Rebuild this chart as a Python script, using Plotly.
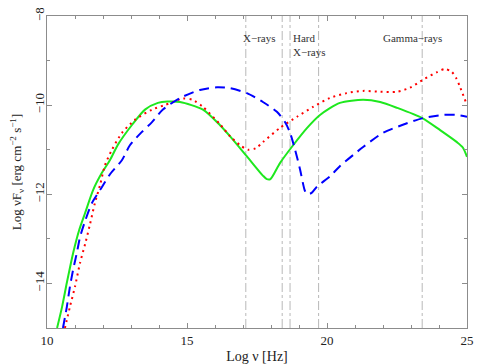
import plotly.graph_objects as go

# ---- data (log nu [Hz], log nuF_nu) ----
green_x = [10.36, 10.54, 10.71, 10.94, 11.15, 11.36, 11.65, 11.95, 12.25, 12.54, 13.04, 13.5, 13.96, 14.3,
           14.75, 15.57, 16.18, 16.54, 17.14, 17.71, 17.85, 17.98, 18.32, 18.79, 19.29, 19.75, 20.46,
           21.29, 21.9, 22.5, 23.4, 24.04, 24.64, 24.85, 25.0]
green_y = [-15.0, -14.52, -13.98, -13.3, -12.8, -12.42, -11.9, -11.53, -11.23, -10.88, -10.44, -10.1, -9.95, -9.92,
           -9.93, -10.1, -10.45, -10.7, -11.15, -11.58, -11.66, -11.66, -11.3, -10.9, -10.51, -10.22, -9.95,
           -9.88, -9.93, -10.06, -10.29, -10.56, -10.83, -10.95, -11.16]

red_x = [10.64, 10.82, 11.0, 11.18, 11.36, 11.54, 11.71, 11.9, 12.07, 12.32, 12.68, 13.14, 13.75, 14.2,
         14.5, 14.86, 15.2, 15.57, 16.18, 16.54, 16.9, 17.18, 17.45, 17.71, 18.32, 18.93, 19.5, 20.1,
         20.7, 21.29, 21.9, 22.5, 22.96, 23.43, 23.93, 24.2, 24.45, 24.62, 24.75, 24.97]
red_y = [-15.0, -14.52, -14.07, -13.54, -13.12, -12.66, -12.2, -11.78, -11.35, -11.0, -10.62, -10.33, -10.1, -10.0,
         -9.93, -9.85, -9.88, -10.04, -10.43, -10.7, -10.9, -11.0, -10.97, -10.83, -10.51, -10.26, -10.04, -9.84,
         -9.73, -9.68, -9.7, -9.7, -9.61, -9.43, -9.26, -9.19, -9.25, -9.4, -9.59, -9.95]

blue_x = [10.57, 10.71, 10.82, 10.93, 11.07, 11.18, 11.36, 11.6, 11.9, 12.25, 12.68, 12.96, 13.39, 13.75,
          14.14, 14.75, 15.46, 16.07, 16.54, 17.14, 17.71, 18.21, 18.5, 18.68, 18.86, 19.04, 19.21, 19.3,
          19.45, 19.64, 20.1, 20.46, 21.29, 22.0, 22.71, 23.43, 24.14, 24.64, 25.0]
blue_y = [-15.0, -14.52, -14.07, -13.7, -13.3, -12.96, -12.6, -12.2, -11.9, -11.55, -11.23, -10.9, -10.6, -10.38,
          -10.1, -9.84, -9.66, -9.6, -9.62, -9.73, -9.93, -10.15, -10.38, -10.62, -11.0, -11.45, -11.92, -12.0,
          -11.97, -11.83, -11.6, -11.37, -10.94, -10.62, -10.44, -10.29, -10.22, -10.22, -10.26]

band_lines = [17.1, 18.4, 18.68, 19.7, 23.4]
band_labels = ["X−rays", "Hard<br>X−rays", "Gamma−rays"]
band_label_x = [17.57, 18.72, 23.07]

x_ticks = [10, 15, 20, 25]
y_ticks = [-14, -12, -10, -8]

FONT = "Liberation Serif, Times New Roman, serif"
AXC = "#8c8c8c"

fig = go.Figure()
fig.add_trace(go.Scatter(x=green_x, y=green_y, mode="lines",
                         line=dict(color="#1ee81e", width=2, shape="spline", smoothing=0.7)))
fig.add_trace(go.Scatter(x=red_x, y=red_y, mode="lines",
                         line=dict(color="#ff0000", width=2, dash="2px,4px", shape="spline", smoothing=0.7)))
fig.add_trace(go.Scatter(x=blue_x, y=blue_y, mode="lines",
                         line=dict(color="#0000ff", width=2, dash="10px,6px", shape="spline", smoothing=0.7)))

for xv in band_lines:
    fig.add_shape(type="line", x0=xv, x1=xv, xref="x", y0=0, y1=1, yref="paper",
                  line=dict(color="#b8b8b8", width=1, dash="dashdot"), layer="below")

fig.add_annotation(x=band_label_x[0], y=-8.49, text=band_labels[0], showarrow=False,
                   xanchor="center", yanchor="middle", font=dict(family=FONT, size=11, color="#333"))
fig.add_annotation(x=band_label_x[1], y=-8.65, text=band_labels[1], showarrow=False, align="left",
                   xanchor="left", yanchor="middle", font=dict(family=FONT, size=11, color="#333"))
fig.add_annotation(x=band_label_x[2], y=-8.49, text=band_labels[2], showarrow=False,
                   xanchor="center", yanchor="middle", font=dict(family=FONT, size=11, color="#333"))

# page body has an 8px margin, so the figure is made 8px smaller and margins compensated
fig.update_layout(
    width=476, height=356,
    margin=dict(l=39, r=17, t=8, b=36),
    paper_bgcolor="white", plot_bgcolor="white",
    showlegend=False,
    font=dict(family=FONT, size=13, color="#222"),
    xaxis=dict(range=[10, 25], tickvals=x_ticks, ticks="inside", ticklen=5, tickcolor=AXC,
               showline=True, linecolor=AXC, linewidth=1, mirror="allticks", showgrid=False, zeroline=False,
               automargin=False,
               minor=dict(dtick=1, ticks="inside", ticklen=3, tickcolor=AXC),
               title=dict(text="Log ν [Hz]", font=dict(size=14), standoff=7),
               tickfont=dict(size=13)),
    yaxis=dict(range=[-15, -8], tickvals=y_ticks, ticks="inside", ticklen=5, tickcolor=AXC,
               showline=True, linecolor=AXC, linewidth=1, mirror="allticks", showgrid=False, zeroline=False,
               automargin=False, ticklabelstandoff=-3, ticklabeloverflow="allow",
               minor=dict(dtick=1, ticks="inside", ticklen=3, tickcolor=AXC),
               tickangle=-90,
               title=dict(text="Log νF<sub>ν</sub> [erg cm<sup>−2</sup> s<sup>−1</sup>]", font=dict(size=13), standoff=15),
               tickfont=dict(size=13)),
)

fig.write_html("out.html")
